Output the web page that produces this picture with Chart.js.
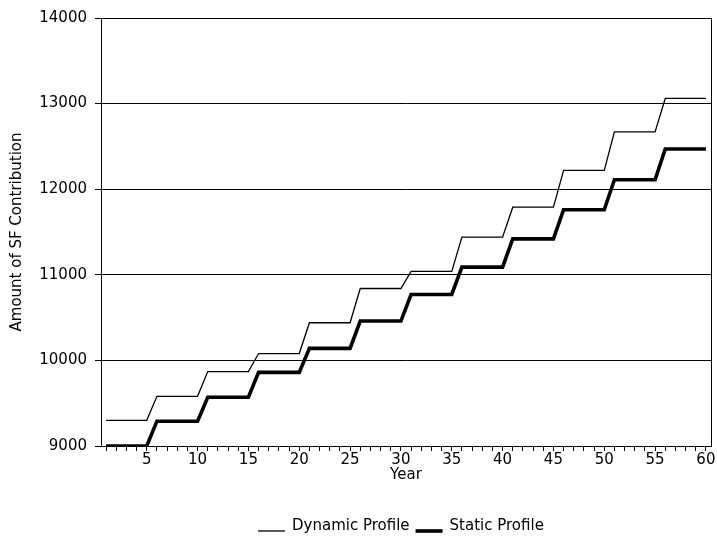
<!DOCTYPE html>
<html>
<head>
<meta charset="utf-8">
<script src="https://cdn.jsdelivr.net/npm/chart.js@4"></script>
<style>
  body { margin: 0; background: #fff; }
  #wrap { width: 717px; height: 540px; }
</style>
</head>
<body>
<div id="wrap"><canvas id="sfChart" width="717" height="540"></canvas></div>
<script>
const years = [
    1, 2, 3, 4, 5, 6, 7, 8, 9, 10,
    11, 12, 13, 14, 15, 16, 17, 18, 19, 20,
    21, 22, 23, 24, 25, 26, 27, 28, 29, 30,
    31, 32, 33, 34, 35, 36, 37, 38, 39, 40,
    41, 42, 43, 44, 45, 46, 47, 48, 49, 50,
    51, 52, 53, 54, 55, 56, 57, 58, 59, 60,
];

const dynamicProfile = [
    9300, 9300, 9300, 9300, 9300, 9580, 9580, 9580, 9580, 9580,
    9870, 9870, 9870, 9870, 9870, 10080, 10080, 10080, 10080, 10080,
    10440, 10440, 10440, 10440, 10440, 10840, 10840, 10840, 10840, 10840,
    11040, 11040, 11040, 11040, 11040, 11440, 11440, 11440, 11440, 11440,
    11790, 11790, 11790, 11790, 11790, 12220, 12220, 12220, 12220, 12220,
    12670, 12670, 12670, 12670, 12670, 13060, 13060, 13060, 13060, 13060,
];

const staticProfile = [
    9000, 9000, 9000, 9000, 9000, 9290, 9290, 9290, 9290, 9290,
    9570, 9570, 9570, 9570, 9570, 9860, 9860, 9860, 9860, 9860,
    10140, 10140, 10140, 10140, 10140, 10460, 10460, 10460, 10460, 10460,
    10770, 10770, 10770, 10770, 10770, 11090, 11090, 11090, 11090, 11090,
    11420, 11420, 11420, 11420, 11420, 11760, 11760, 11760, 11760, 11760,
    12110, 12110, 12110, 12110, 12110, 12470, 12470, 12470, 12470, 12470,
];

const yTicks = [9000, 10000, 11000, 12000, 13000, 14000];
const xLabelTicks = [5, 10, 15, 20, 25, 30, 35, 40, 45, 50, 55, 60];

const FONT = { family: '"DejaVu Sans", sans-serif', size: 15 };

// frame round the plot and the line legend under the chart
const framePlugin = {
    id: 'frame',
    afterDatasetsDraw(chart) {
        const { ctx, chartArea: a } = chart;
        ctx.save();
        ctx.strokeStyle = '#000';
        ctx.lineWidth = 1;
        ctx.strokeRect(Math.round(a.left) + 0.5, Math.round(a.top) + 0.5,
            Math.round(a.right - a.left), Math.round(a.bottom - a.top));
        ctx.restore();
    },
    afterDraw(chart) {
        const ctx = chart.ctx;
        ctx.save();
        ctx.font = '15px "DejaVu Sans", sans-serif';
        ctx.textBaseline = 'middle';
        ctx.fillStyle = '#000';
        ctx.strokeStyle = '#000';
        let x = 258;
        const y = 526;
        chart.data.datasets.forEach(ds => {
            ctx.lineWidth = ds.borderWidth;
            ctx.beginPath();
            ctx.moveTo(x, y + 5);
            ctx.lineTo(x + 27, y + 5);
            ctx.stroke();
            x += 34;
            ctx.fillText(ds.label, x, y);
            x += ctx.measureText(ds.label).width + 6;
        });
        ctx.restore();
    },
};

const toPoints = vals => vals.map((v, i) => ({ x: years[i], y: v }));

new Chart(document.getElementById('sfChart'), {
    type: 'line',
    data: {
        datasets: [
            {
                label: 'Dynamic Profile',
                data: toPoints(dynamicProfile),
                borderColor: '#000',
                borderWidth: 1.3,
                pointRadius: 0,
                tension: 0,
            },
            {
                label: 'Static Profile',
                data: toPoints(staticProfile),
                borderColor: '#000',
                borderWidth: 3.6,
                pointRadius: 0,
                tension: 0,
            },
        ],
    },
    options: {
        responsive: false,
        animation: false,
        layout: { padding: { left: 0, right: 6, top: 18, bottom: 54 } },
        plugins: {
            legend: { display: false },
            tooltip: { enabled: false },
        },
        scales: {
            x: {
                type: 'linear',
                min: 0.5,
                max: 60.5,
                afterBuildTicks: scale => { scale.ticks = years.map(v => ({ value: v })); },
                afterFit: scale => { scale.height = 40; },
                ticks: {
                    color: '#000',
                    font: FONT,
                    padding: 0,
                    maxRotation: 0,
                    autoSkip: false,
                    callback: v => (xLabelTicks.includes(v) ? String(v) : ''),
                },
                grid: {
                    drawOnChartArea: false,
                    drawTicks: true,
                    tickLength: 5,
                    color: '#000',
                },
                border: { display: true, color: '#000', width: 1 },
                title: {
                    display: true,
                    text: 'Year',
                    color: '#000',
                    font: FONT,
                    padding: { top: 0, bottom: 2 },
                },
            },
            y: {
                min: 9000,
                max: 14000,
                afterBuildTicks: scale => { scale.ticks = yTicks.map(v => ({ value: v })); },
                afterFit: scale => { scale.width = 101; },
                ticks: {
                    color: '#000',
                    font: FONT,
                    padding: 8,
                    callback: v => String(v),
                },
                grid: {
                    color: '#000',
                    lineWidth: 1,
                    tickLength: 6,
                },
                border: { display: true, color: '#000', width: 1 },
                title: {
                    display: true,
                    text: 'Amount of SF Contribution',
                    color: '#000',
                    font: FONT,
                    padding: { top: 8, bottom: 0 },
                },
            },
        },
    },
    plugins: [framePlugin],
});
</script>
</body>
</html>
